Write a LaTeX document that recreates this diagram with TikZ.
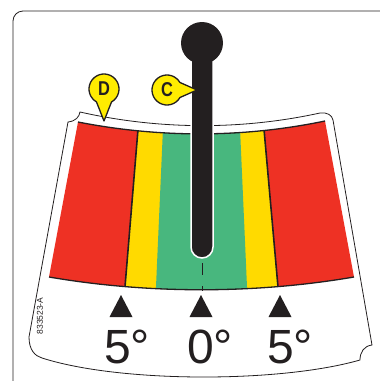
\documentclass[tikz,border=0pt]{standalone}
\usepackage{fontspec}
\setmainfont{Liberation Sans}
\newfontfamily\calloutfont[FakeStretch=0.82]{Liberation Sans}
\usetikzlibrary{calc}

\definecolor{gaugered}{HTML}{EE3124}
\definecolor{gaugeyellow}{HTML}{FFDA00}
\definecolor{gaugegreen}{HTML}{48B77E}
\definecolor{calloutyellow}{HTML}{FFEC00}
\definecolor{inkblack}{HTML}{231F20}

\begin{document}
\begin{tikzpicture}[
  x=1pt, y=-1pt,
  outline/.style={draw=inkblack, line width=0.8pt},
  divider/.style={draw=inkblack, line width=1.6pt},
  bandedge/.style={draw=inkblack, line width=1.3pt},
  callout/.style={fill=calloutyellow, draw=inkblack, line width=1.3pt, line join=round},
  marker/.style={fill=inkblack},
  degree/.style={font=\fontsize{48}{48}\selectfont, text=inkblack, inner sep=0pt, anchor=base},
  letter/.style={font=\calloutfont\fontsize{20}{20}\selectfont\bfseries, text=inkblack, inner sep=0pt}
]
\useasboundingbox (0,0) rectangle (380,381);

% frame and card
\draw[outline, rounded corners=10pt] (13,11) rectangle (400,400);
\path[outline, fill=white] (68,122) .. controls (76,121) and (79,117) .. (80,112)
  .. controls (160,130) and (242,130) .. (320,113)
  .. controls (327,112) and (332,115) .. (333,120)
  -- (372,345)
  .. controls (364,346) and (360,352) .. (360,360)
  .. controls (280,383) and (120,383) .. (42,358)
  .. controls (35,356) and (29,350) .. (29,337)
  -- cycle;

% coloured band
\begin{scope}
  \clip (78,122) .. controls (160,138) and (243,138) .. (325,121)
    -- (354,277) .. controls (255,294) and (148,294) .. (49,277) -- cycle;
  \fill[gaugered] (40,100) rectangle (360,300);
  \fill[gaugeyellow] (139.6,110) -- (262.3,110) -- (279.6,305) -- (123.5,305) -- cycle;
  \fill[gaugegreen] (163.8,110) -- (239.2,110) -- (247.8,305) -- (155.2,305) -- cycle;
  \draw[divider] (139.6,110) -- (123.5,305);
  \draw[divider] (262.3,110) -- (279.6,305);
\end{scope}
\draw[bandedge] (78,122) .. controls (160,138) and (243,138) .. (325,121);
\draw[bandedge] (49,277) .. controls (148,294) and (255,294) .. (354,277);
\draw[inkblack, line width=1pt, dash pattern=on 12pt off 11pt] (202,263) -- (202,291);

% lever
\path[fill=inkblack, draw=white, line width=1.5pt] (191,55) -- (191,247)
  arc[start angle=180, end angle=0, radius=11] -- (213,55) -- cycle;
\fill[inkblack] (202,43) circle[radius=21];

% callouts
\coordinate (dcenter) at (104,89);
\coordinate (dtip) at (104,121);
\path[callout] (dtip) -- ($(dcenter)+(60:15)$)
  arc[start angle=60, end angle=-240, radius=15] -- cycle;
\node[letter] (dlabel) at (dcenter) {D};

\coordinate (ccenter) at (167,90);
\coordinate (ctip) at (197,90);
\path[callout] (ctip) -- ($(ccenter)+(30:15)$)
  arc[start angle=30, end angle=330, radius=15] -- cycle;
\node[letter] (clabel) at (ccenter) {C};

% scale marks
\foreach \x in {121,201,280}
  \fill[marker] (\x,295) -- (\x+11.5,317) -- (\x-11.5,317) -- cycle;

\node[degree] (leftdeg) at (127,363) {5°};
\node[degree] (zerodeg) at (210,363) {0°};
\node[degree] (rightdeg) at (290,363) {5°};

\node[rotate=90, font=\fontsize{8.5}{8.5}\selectfont, text=inkblack] (partno) at (40,316) {833523-A};
\end{tikzpicture}
\end{document}
